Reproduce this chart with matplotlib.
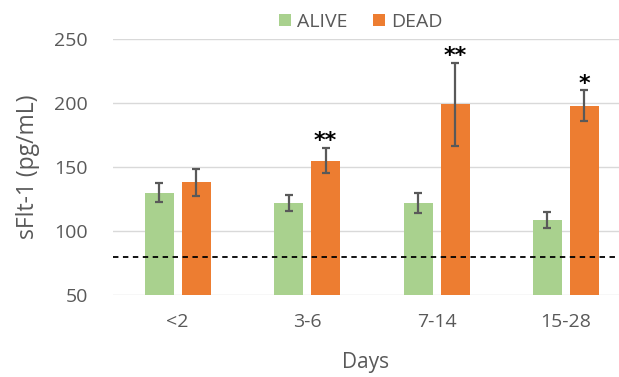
import numpy as np
import matplotlib.pyplot as plt

# data
days = ["<2", "3-6", "7-14", "15-28"]
alive_mean = [130, 122, 122, 108.5]
alive_err = [7.5, 6, 8, 6]
dead_mean = [138, 155, 199, 198]
dead_err = [10.5, 10, 32.5, 12]
stars = ["", "**", "**", "*"]
cutoff = 80

GREEN = "#A9D18E"
ORANGE = "#ED7D31"
GREY = "#595959"

plt.rcParams["font.family"] = ["Open Sans", "DejaVu Sans"]

fig = plt.figure(figsize=(6.19, 3.77), dpi=100)
ax = fig.add_axes([0.1826, 0.2175, 1 - 0.1826, 0.6791])

x = np.arange(len(days))
w = 0.224
off = 0.143
ax.bar(x - off, alive_mean, w, color=GREEN, label="ALIVE", zorder=2)
ax.bar(x + off, dead_mean, w, color=ORANGE, label="DEAD", zorder=2)
ax.errorbar(x - off, alive_mean, yerr=alive_err, fmt="none", ecolor=GREY,
            elinewidth=1.6, capsize=3, capthick=1.6, zorder=3)
ax.errorbar(x + off, dead_mean, yerr=dead_err, fmt="none", ecolor=GREY,
            elinewidth=1.6, capsize=3, capthick=1.6, zorder=3)

# significance markers above dead bars
for xi, m, e, s in zip(x, dead_mean, dead_err, stars):
    if s:
        ax.text(xi + off, m + e + 5, s, ha="center", va="center",
                fontsize=16, fontweight="bold", color="black",
                family="DejaVu Sans")

ax.axhline(cutoff, color="black", linestyle=(0, (3, 2.5)), linewidth=1.3, zorder=4)

ax.set_ylim(50, 250)
ax.set_yticks([50, 100, 150, 200, 250])
ax.set_xlim(-0.5, 3.41)
ax.set_xticks(x)
ax.set_xticklabels(days)
ax.yaxis.grid(True, color="#D9D9D9", linewidth=1, zorder=0)
ax.set_axisbelow(True)
for sp in ax.spines.values():
    sp.set_visible(False)
ax.tick_params(axis="both", length=0, colors=GREY, labelsize=14)
ax.tick_params(axis="y", pad=18)
ax.tick_params(axis="x", pad=13)

ax.set_ylabel("sFlt-1 (pg/mL)", fontsize=16.5, color=GREY, labelpad=10)
ax.set_xlabel("Days", fontsize=15, color=GREY, labelpad=15)

leg = ax.legend(loc="upper center", bbox_to_anchor=(0.49, 1.17), ncol=2,
                frameon=False, fontsize=14, handlelength=0.6,
                handleheight=0.6, columnspacing=1.3, handletextpad=0.35)
for t in leg.get_texts():
    t.set_color(GREY)

fig.savefig("out.png", dpi=100)
